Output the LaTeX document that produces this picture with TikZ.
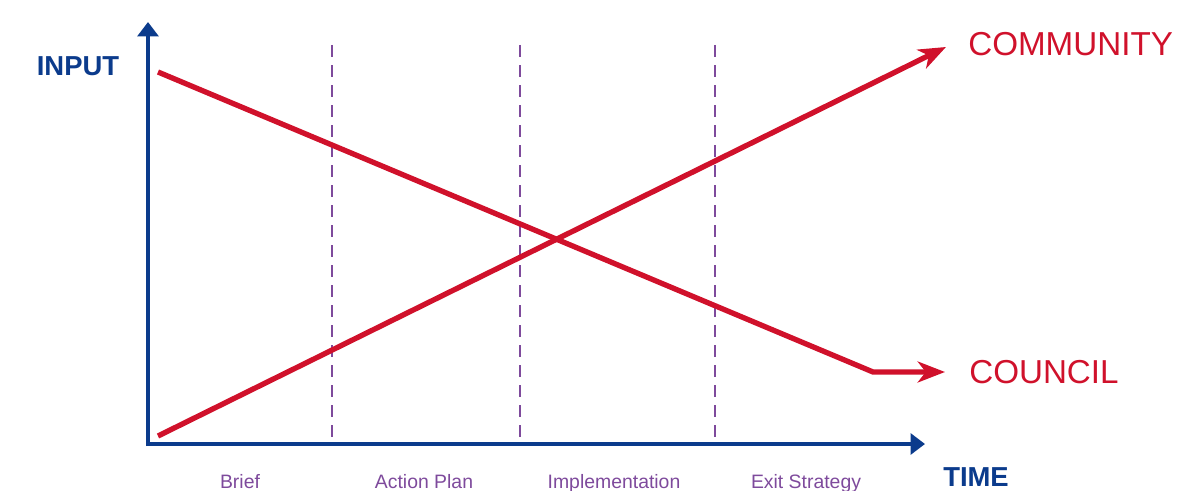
\documentclass[tikz,border=0pt]{standalone}
\usepackage{fontspec}
\setmainfont{Liberation Sans}
\usetikzlibrary{arrows.meta}
\definecolor{axisblue}{HTML}{0B3B8C}
\definecolor{trendred}{HTML}{D0112B}
\definecolor{phasepurple}{HTML}{7E4A9C}
\tikzset{
	axisline/.style={line width=2.9pt, draw=axisblue, -{Triangle[length=0.36cm, width=0.52cm]}},
	trendline/.style={line width=3.8pt, draw=trendred, line join=round, -{Stealth[length=0.68cm, width=0.52cm, inset=0.2cm]}},
	phaseline/.style={line width=2pt, draw=phasepurple, dash pattern=on 0.3cm off 0.2cm},
	axislabel/.style={font=\fontsize{19.5}{19.5}\selectfont\bfseries, text=axisblue, inner sep=0pt},
	trendlabel/.style={font=\fontsize{23.6}{24}\selectfont, text=trendred, inner sep=0pt},
	phaselabel/.style={font=\fontsize{13.8}{14}\selectfont, text=phasepurple, inner sep=0pt, anchor=base}
}
\begin{document}
\begin{tikzpicture}[x=0.025cm, y=-0.025cm]
	\useasboundingbox (0,0) rectangle (1184,491);
	% axes
	\coordinate (origin) at (148,444);
	\coordinate (ytip) at (148,22);
	\coordinate (xtip) at (925,444);
	\coordinate (ybase) at (148,446);
	\draw[axisline] (ybase) -- (ytip);
	\draw[axisline] (146,444) -- (xtip);
	% phases
	\foreach \x in {332,520,715}
		\draw[phaseline] (\x,45) -- (\x,444);
	\foreach \x/\txt in {240/Brief,424/Action Plan,614/Implementation,806/Exit Strategy}
		\node[phaselabel] at (\x,488) {\txt};
	% council and community
	\coordinate (councilstart) at (158,72);
	\coordinate (councilbend) at (873,372);
	\coordinate (counciltip) at (945,372);
	\coordinate (communitystart) at (158,436);
	\coordinate (communitytip) at (946,47);
	\draw[trendline] (councilstart) -- (councilbend) -- (counciltip);
	\draw[trendline] (communitystart) -- (communitytip);
	% labels
	\node[axislabel] (input) at (78,66) {INPUT};
	\node[axislabel] (time) at (976,477) {TIME};
	\node[trendlabel, anchor=west] (community) at (968,44) {COMMUNITY};
	\node[trendlabel, anchor=west] (council) at (969,372) {COUNCIL};

\end{tikzpicture}
\end{document}
